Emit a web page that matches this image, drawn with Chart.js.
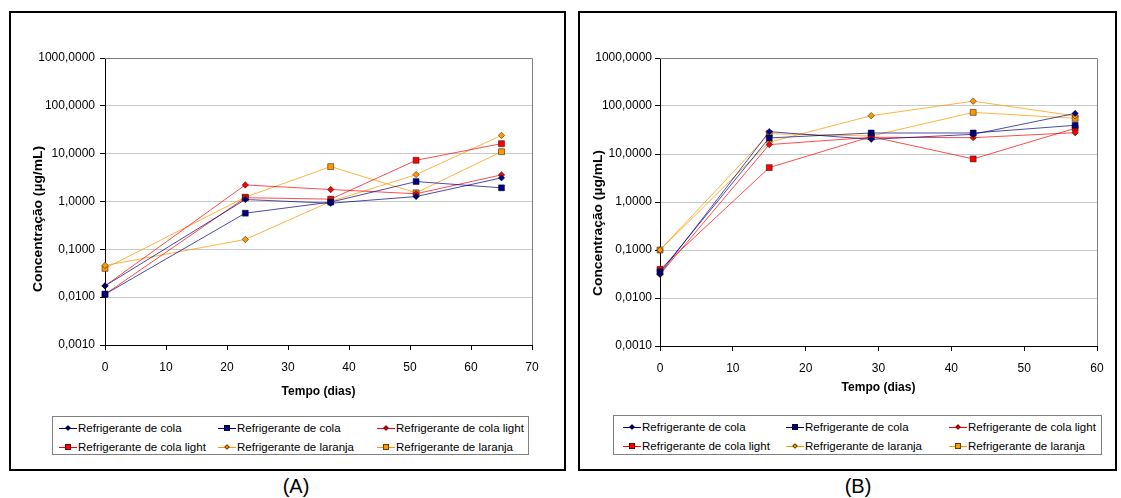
<!DOCTYPE html>
<html>
<head>
<meta charset="utf-8">
<script src="https://cdn.jsdelivr.net/npm/chart.js@4.4.1/dist/chart.umd.min.js"></script>
<style>
body { margin: 0; width: 1121px; height: 498px; background: #fff; position: relative; overflow: hidden; font-family: 'Liberation Sans', Arial, sans-serif; color: #000; }
.panel { position: absolute; top: 11px; height: 460px; border: 2px solid #000; box-sizing: border-box; }
canvas { position: absolute; top: 0; }
.ytitle { position: absolute; font-weight: bold; font-size: 12px; white-space: nowrap; transform: translate(-50%, -50%) rotate(-90deg) scaleX(1.15); }
.legend { position: absolute; border: 1px solid #808080; box-sizing: border-box; }
.item { position: absolute; display: flex; align-items: center; height: 14px; font-size: 11.5px; white-space: nowrap; }
.sym { position: relative; width: 18px; height: 14px; margin-right: 1px; }
.sym .ln { position: absolute; left: 0; right: 0; top: 7px; height: 1px; }
.sym .mk { position: absolute; box-sizing: border-box; border: 1px solid rgba(0,0,0,0.6); }
.caption { position: absolute; top: 475px; font-size: 20px; transform: translateX(-50%); }
</style>
</head>
<body>
<div class="panel" style="left:9px;width:557px"></div>
<div class="panel" style="left:578px;width:539px"></div>
<canvas id="chartA" width="566" height="410" style="left:0;width:566px;height:410px"></canvas>
<canvas id="chartB" width="555" height="410" style="left:566px;width:555px;height:410px"></canvas>
<div class="ytitle" style="left:38px;top:219px">Concentração (µg/mL)</div>
<div class="ytitle" style="left:598px;top:223px">Concentração (µg/mL)</div>
<div class="legend" style="left:52px;top:416px;width:477px;height:39px"></div>
<div class="legend" style="left:613px;top:415px;width:489px;height:40px"></div>
<div class="caption" style="left:296px">(A)</div>
<div class="caption" style="left:858px">(B)</div>
<script>
// tempo (dias)
const diasA = [0, 23, 37, 51, 65];
const diasB = [0, 15, 29, 43, 57];

// concentração (µg/mL) - painel A
const colaA1 = [0.0172, 1.10, 0.92, 1.27, 3.12];
const colaA2 = [0.0115, 0.57, 0.97, 2.61, 1.93];
const lightA1 = [0.0172, 2.22, 1.78, 1.45, 3.60];
const lightA2 = [0.0115, 1.20, 1.12, 7.27, 16.2];
const laranjaA1 = [0.046, 0.161, 1.00, 3.65, 24.1];
const laranjaA2 = [0.040, 1.23, 5.36, 1.52, 11.0];

// concentração (µg/mL) - painel B
const colaB1 = [0.032, 29.2, 20.2, 25.7, 70.2];
const colaB2 = [0.035, 21.6, 27.4, 27.4, 39.6];
const lightB1 = [0.031, 15.7, 22.3, 21.9, 27.8];
const lightB2 = [0.0395, 5.2, 23.0, 7.9, 34.3];
const laranjaB1 = [0.100, 17.6, 62.8, 126, 62.0];
const laranjaB2 = [0.100, 26.5, 23.7, 73.6, 55.4];

const seriesLabels = ['Refrigerante de cola', 'Refrigerante de cola', 'Refrigerante de cola light',
    'Refrigerante de cola light', 'Refrigerante de laranja', 'Refrigerante de laranja'];
const yTicks = [0.001, 0.01, 0.1, 1, 10, 100, 1000];
const xTicksA = [0, 10, 20, 30, 40, 50, 60, 70];
const xTicksB = [0, 10, 20, 30, 40, 50, 60];

const markColors = ['#000080', '#000080', '#ff0000', '#ff0000', '#ff9900', '#ff9900'];
const lineColors = ['rgba(0,0,128,0.7)', 'rgba(0,0,128,0.7)', 'rgba(255,0,0,0.7)',
    'rgba(255,0,0,0.7)', 'rgba(255,153,0,0.75)', 'rgba(255,153,0,0.75)'];
const markStyles = ['rectRot', 'rect', 'rectRot', 'rect', 'rectRot', 'rect'];

const fontFamily = "'Liberation Sans', Arial, sans-serif";

const frame = {
    id: 'frame',
    beforeDatasetsDraw(chart) {
        const { ctx, chartArea: a } = chart;
        ctx.save();
        ctx.strokeStyle = '#808080';
        ctx.lineWidth = 1;
        ctx.beginPath();
        ctx.moveTo(a.left, Math.round(a.top) + 0.5);
        ctx.lineTo(Math.round(a.right) + 0.5, Math.round(a.top) + 0.5);
        ctx.lineTo(Math.round(a.right) + 0.5, a.bottom);
        ctx.stroke();
        ctx.restore();
    }
};

function makeChart(id, dias, series, xTicks, g) {
    const datasets = series.map((vals, i) => ({
        label: seriesLabels[i],
        data: dias.map((d, j) => ({ x: d, y: vals[j] })),
        borderColor: lineColors[i],
        borderWidth: 1,
        backgroundColor: markColors[i],
        pointStyle: markStyles[i],
        pointRadius: markStyles[i] === 'rect' ? 4.2 : 3.2,
        pointBackgroundColor: markColors[i],
        pointBorderColor: 'rgba(0,0,0,0.6)',
        pointBorderWidth: 0.8,
        clip: false,
        tension: 0
    }));
    return new Chart(document.getElementById(id), {
        type: 'line',
        data: { datasets },
        options: {
            responsive: false,
            animation: false,
            layout: { padding: { top: 58, right: g.right, left: 0, bottom: 0 } },
            plugins: { legend: { display: false }, tooltip: { enabled: false } },
            scales: {
                x: {
                    type: 'linear',
                    min: xTicks[0],
                    max: xTicks[xTicks.length - 1],
                    afterBuildTicks: s => { s.ticks = xTicks.map(v => ({ value: v })); },
                    afterFit: s => { s.height = g.xh; },
                    ticks: { color: '#000', padding: 10, maxRotation: 0, font: { family: fontFamily, size: 12 } },
                    grid: { drawOnChartArea: false, tickLength: 5, tickColor: '#000' },
                    border: { color: '#000', width: 1 },
                    title: {
                        display: true, text: 'Tempo (dias)', color: '#000',
                        font: { family: fontFamily, size: 12, weight: 'bold' },
                        padding: { top: 0, bottom: g.tb }
                    }
                },
                y: {
                    type: 'logarithmic',
                    min: yTicks[0],
                    max: yTicks[yTicks.length - 1],
                    afterBuildTicks: s => { s.ticks = yTicks.map(v => ({ value: v })); },
                    afterFit: s => { s.width = g.yw; },
                    ticks: {
                        color: '#000', padding: g.yp, font: { family: fontFamily, size: 12 },
                        callback: v => v.toFixed(4).replace('.', ',')
                    },
                    grid: { color: '#c8c8c8', tickLength: 5, tickColor: '#000' },
                    border: { color: '#000', width: 1 }
                }
            }
        },
        plugins: [frame]
    });
}

makeChart('chartA', diasA, [colaA1, colaA2, lightA1, lightA2, laranjaA1, laranjaA2], xTicksA,
    { right: 34, xh: 65, yw: 105, yp: 5, tb: 11 });
makeChart('chartB', diasB, [colaB1, colaB2, lightB1, lightB2, laranjaB1, laranjaB2], xTicksB,
    { right: 24, xh: 64, yw: 94, yp: 3, tb: 15 });

// legends (3 columns x 2 rows)
function makeLegend(cols, rows) {
    seriesLabels.forEach((label, i) => {
        const item = document.createElement('div');
        item.className = 'item';
        item.style.left = cols[i % 3] + 'px';
        item.style.top = (rows[Math.floor(i / 3)] - 7) + 'px';
        const sym = document.createElement('span');
        sym.className = 'sym';
        const ln = document.createElement('span');
        ln.className = 'ln';
        ln.style.background = markColors[i];
        const mk = document.createElement('span');
        mk.className = 'mk';
        mk.style.background = markColors[i];
        if (markStyles[i] === 'rect') {
            Object.assign(mk.style, { left: '6px', top: '4px', width: '6px', height: '6px' });
        } else {
            Object.assign(mk.style, { left: '7px', top: '5px', width: '4px', height: '4px', transform: 'rotate(45deg)' });
        }
        sym.appendChild(ln);
        sym.appendChild(mk);
        item.appendChild(sym);
        item.appendChild(document.createTextNode(label));
        document.body.appendChild(item);
    });
}
makeLegend([59, 218, 377], [428, 447]);
makeLegend([623, 786, 949], [427, 446]);
</script>
</body>
</html>
